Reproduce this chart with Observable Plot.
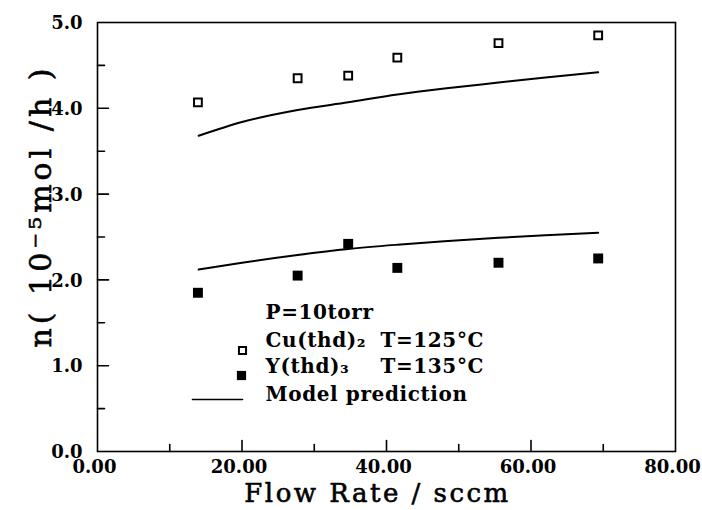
<!DOCTYPE html>
<html><head><meta charset="utf-8">
<script src="https://cdn.jsdelivr.net/npm/d3@7"></script>
<script src="https://cdn.jsdelivr.net/npm/@observablehq/plot@0.6"></script>
<style>
body{margin:0;background:#fff}
g[font-size="20"] text{letter-spacing:0.6px}
g[font-size="26"] text{letter-spacing:2.5px}
g[font-size="30"] text{letter-spacing:4px}
</style></head><body><div id="chart"></div>
<script>
// ---- data ----
const flowRate = [13.9, 27.7, 34.7, 41.5, 55.5, 69.3];
const cuRate   = [4.07, 4.35, 4.38, 4.59, 4.76, 4.85];
const yRate    = [1.85, 2.05, 2.42, 2.14, 2.20, 2.25];
const modelFlow = [14, 20, 27.7, 34.7, 41.5, 48, 55.5, 62, 69.3];
const modelCu   = [3.68, 3.84, 3.98, 4.07, 4.16, 4.23, 4.30, 4.36, 4.42];
const modelY    = [2.12, 2.20, 2.29, 2.36, 2.41, 2.45, 2.49, 2.52, 2.55];
const xTickLabels = [0, 20, 40, 60, 80];
const yTickLabels = [0, 1, 2, 3, 4, 5];
const xMajor = [20, 40, 60], xMinor = [10, 30, 50, 70];
const yMajor = [1, 2, 3, 4], yMinor = [0.5, 1.5, 2.5, 3.5, 4.5];
const xTitle = "Flow Rate / sccm";
const yTitle = "n( 10\u207B\u2075mol /h )";
const legendTitle = "P=10torr";
const seriesNames = ["Cu(thd)\u2082", "Y(thd)\u2083"];
const seriesTemps = ["T=125\u00B0C", "T=135\u00B0C"];
const modelName = "Model prediction";

const cuData = flowRate.map((x, i) => ({x, y: cuRate[i]}));
const yData = flowRate.map((x, i) => ({x, y: yRate[i]}));
const mCu = modelFlow.map((x, i) => ({x, y: modelCu[i]}));
const mY = modelFlow.map((x, i) => ({x, y: modelY[i]}));

const tickShape = {draw(ctx, l) { ctx.moveTo(0, 0); ctx.lineTo(0, -l); }};
const bold = {fontWeight: "bold"};
const leg = {frameAnchor: "top-left", textAnchor: "start", lineAnchor: "middle", fontSize: 20, fontWeight: "bold", text: d => d};

const chart = Plot.plot({
  width: 702, height: 510,
  marginLeft: 97, marginRight: 27, marginTop: 22, marginBottom: 59,
  style: {fontFamily: "DejaVu Serif", background: "white", color: "black"},
  x: {domain: [0, 80]},
  y: {domain: [0, 5]},
  axis: null,
  marks: [
    Plot.frame({stroke: "black", strokeWidth: 1.6}),
    // inward ticks
    Plot.vector(xMajor, {x: d => d, y: 0, length: 11, rotate: 0, anchor: "start", shape: tickShape, stroke: "black", strokeWidth: 1.6}),
    Plot.vector(xMinor, {x: d => d, y: 0, length: 7, rotate: 0, anchor: "start", shape: tickShape, stroke: "black", strokeWidth: 1.6}),
    Plot.vector(yMajor, {x: 0, y: d => d, length: 11, rotate: 90, anchor: "start", shape: tickShape, stroke: "black", strokeWidth: 1.6}),
    Plot.vector(yMinor, {x: 0, y: d => d, length: 7, rotate: 90, anchor: "start", shape: tickShape, stroke: "black", strokeWidth: 1.6}),
    // tick labels
    Plot.text(xTickLabels, {x: d => d, frameAnchor: "bottom", text: d3.format(".2f"), dy: 9, dx: -3, lineAnchor: "top", textAnchor: "middle", fontSize: 18, ...bold}),
    Plot.text(yTickLabels, {y: d => d, frameAnchor: "left", text: d3.format(".1f"), dx: -15, dy: 1, lineAnchor: "middle", textAnchor: "end", fontSize: 18, ...bold}),
    // titles
    Plot.text([xTitle], {text: d => d, frameAnchor: "bottom", dy: 50, dx: -9, lineAnchor: "bottom", textAnchor: "middle", fontSize: 26, fill: "black", stroke: "black", strokeWidth: 0.6}),
    Plot.text([yTitle], {text: d => d, frameAnchor: "left", dx: -47, dy: -31, rotate: -90, lineAnchor: "bottom", textAnchor: "middle", fontSize: 30, fill: "black", stroke: "black", strokeWidth: 0.6}),
    // model lines
    Plot.line(mCu, {x: "x", y: "y", curve: "monotone-x", stroke: "black", strokeWidth: 2}),
    Plot.line(mY, {x: "x", y: "y", curve: "monotone-x", stroke: "black", strokeWidth: 2}),
    // data
    Plot.dot(cuData, {x: "x", y: "y", symbol: "square", r: 4.4, fill: "white", stroke: "black", strokeWidth: 2}),
    Plot.dot(yData, {x: "x", y: "y", symbol: "square", r: 5.6, fill: "black", stroke: "none"}),
    // legend
    Plot.text([legendTitle], {...leg, dx: 168, dy: 290}),
    Plot.text([seriesNames[0]], {...leg, dx: 168, dy: 318}),
    Plot.text([seriesTemps[0]], {...leg, dx: 283, dy: 318}),
    Plot.text([seriesNames[1]], {...leg, dx: 168, dy: 344}),
    Plot.text([seriesTemps[1]], {...leg, dx: 283, dy: 344}),
    Plot.text([modelName], {...leg, dx: 168, dy: 372}),
    Plot.dot([0], {frameAnchor: "top-left", dx: 145, dy: 328, symbol: "square", r: 4, fill: "white", stroke: "black", strokeWidth: 2}),
    Plot.dot([0], {frameAnchor: "top-left", dx: 144, dy: 353, symbol: "square", r: 5.2, fill: "black", stroke: "none"}),
    Plot.vector([0], {frameAnchor: "top-left", dx: 95, dy: 377, length: 50, rotate: 90, anchor: "start", shape: tickShape, stroke: "black", strokeWidth: 1.6})
  ]
});
document.getElementById("chart").appendChild(chart);
</script></body></html>
